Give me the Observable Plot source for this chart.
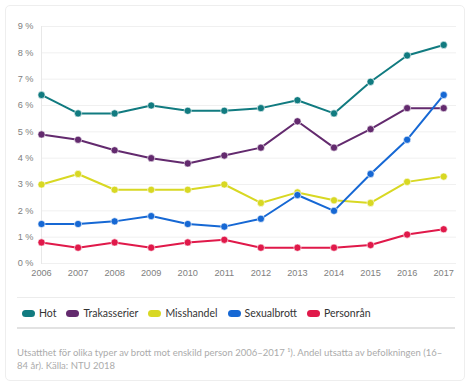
<!DOCTYPE html>
<html>
<head>
<meta charset="utf-8">
<script src="https://cdn.jsdelivr.net/npm/d3@7"></script>
<script src="https://cdn.jsdelivr.net/npm/@observablehq/plot@0.6"></script>
<style>
  html, body { margin: 0; padding: 0; background: #fff; }
  body { width: 474px; height: 388px; position: relative; overflow: hidden; font-family: Lato, "Open Sans", sans-serif; }
  #card { position: absolute; left: 5px; top: 5px; width: 460px; height: 376px; border: 1px solid #eee; border-radius: 5px; box-sizing: border-box; }
  #chart { position: absolute; left: 0; top: 0; }
  #sep1 { position: absolute; left: 17px; width: 438px; top: 297px; height: 0; border-top: 1px solid #ececec; }
  #sep2 { position: absolute; left: 17px; width: 438px; top: 327px; height: 0; border-top: 2px solid #e2e2e2; }
  #legend { position: absolute; left: 22px; top: 307px; display: flex; align-items: center; font-size: 10.5px; color: #333; }
  .item { display: flex; align-items: center; margin-right: 10px; }
  .sw { width: 13px; height: 7px; border-radius: 4px; margin-right: 4px; display: inline-block; }
  #caption { position: absolute; left: 17px; top: 346px; width: 430px; font-size: 9.5px; line-height: 13px; color: #ababab; }
</style>
</head>
<body>
<div id="card"></div>
<div id="chart"></div>
<div id="sep1"></div>
<div id="legend"></div>
<div id="sep2"></div>
<div id="caption">Utsatthet för olika typer av brott mot enskild person 2006–2017 ¹). Andel utsatta av befolkningen (16–84 år). Källa: NTU 2018</div>
<script>
const years = [2006, 2007, 2008, 2009, 2010, 2011, 2012, 2013, 2014, 2015, 2016, 2017];
const seriesNames = ["Hot", "Trakasserier", "Misshandel", "Sexualbrott", "Personrån"];
const seriesColors = ["#117b80", "#632a6e", "#d8d823", "#1668d4", "#e0194a"];
const hot          = [6.4, 5.7, 5.7, 6.0, 5.8, 5.8, 5.9, 6.2, 5.7, 6.9, 7.9, 8.3];
const trakasserier = [4.9, 4.7, 4.3, 4.0, 3.8, 4.1, 4.4, 5.4, 4.4, 5.1, 5.9, 5.9];
const misshandel   = [3.0, 3.4, 2.8, 2.8, 2.8, 3.0, 2.3, 2.7, 2.4, 2.3, 3.1, 3.3];
const sexualbrott  = [1.5, 1.5, 1.6, 1.8, 1.5, 1.4, 1.7, 2.6, 2.0, 3.4, 4.7, 6.4];
const personran    = [0.8, 0.6, 0.8, 0.6, 0.8, 0.9, 0.6, 0.6, 0.6, 0.7, 1.1, 1.3];
const yTicks = [0, 1, 2, 3, 4, 5, 6, 7, 8, 9];

const seriesValues = [hot, trakasserier, misshandel, sexualbrott, personran];
const data = [];
seriesNames.forEach((name, i) => {
  years.forEach((yr, j) => data.push({series: name, year: yr, value: seriesValues[i][j]}));
});

const chart = Plot.plot({
  width: 474,
  height: 285,
  marginTop: 26,
  marginBottom: 22,
  marginLeft: 41,
  marginRight: 18,
  style: { fontFamily: "'Liberation Sans', Arial, sans-serif", fontSize: "9.2px", color: "#808080", background: "transparent" },
  x: { domain: [2006, 2017.35], label: null },
  y: { domain: [0, 9], label: null },
  color: { domain: seriesNames, range: seriesColors },
  marks: [
    Plot.gridY(yTicks, { stroke: "#f0f0f0", strokeOpacity: 1 }),
    Plot.frame({ anchor: "left", stroke: "#e8e8e8" }),
    Plot.axisX({ ticks: years, tickFormat: d => String(d), tickSize: 0, tickPadding: 6, fill: "#808080" }),
    Plot.axisY({ ticks: yTicks, tickFormat: d => d + " %", tickSize: 0, tickPadding: 8, fill: "#808080" }),
    Plot.line(data, { x: "year", y: "value", z: "series", stroke: "series", strokeWidth: 2 }),
    Plot.dot(data, { x: "year", y: "value", fill: "series", r: 3.6, stroke: "#fff", strokeWidth: 0.6 })
  ]
});
document.getElementById("chart").appendChild(chart);

const legend = document.getElementById("legend");
seriesNames.forEach((name, i) => {
  const it = document.createElement("div");
  it.className = "item";
  const sw = document.createElement("span");
  sw.className = "sw";
  sw.style.background = seriesColors[i];
  it.appendChild(sw);
  it.appendChild(document.createTextNode(name));
  legend.appendChild(it);
});
</script>
</body>
</html>
